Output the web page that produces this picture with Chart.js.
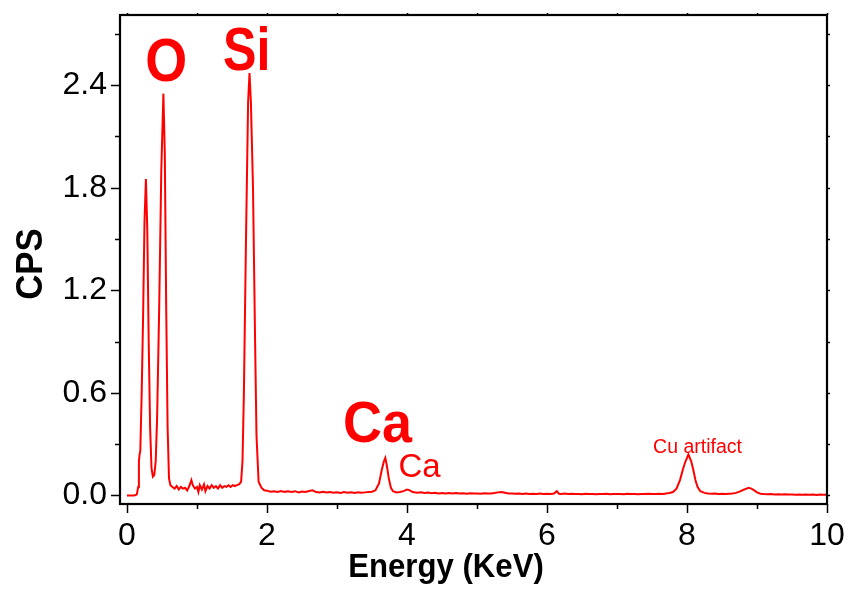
<!DOCTYPE html>
<html>
<head>
<meta charset="utf-8">
<script src="https://cdn.jsdelivr.net/npm/chart.js@4.4.1/dist/chart.umd.min.js"></script>
<style>
  html, body { margin: 0; padding: 0; background: #fff; }
  #wrap { width: 851px; height: 590px; }
</style>
</head>
<body>
<div id="wrap"><canvas id="eds" width="851" height="590"></canvas></div>
<script>
// EDS spectrum, values

const energyKeV = [
  0.00, 0.05, 0.10, 0.14, 0.16, 0.17, 0.18, 0.19, 0.21, 0.23,
  0.25, 0.27, 0.29, 0.31, 0.33, 0.35, 0.37, 0.39, 0.41, 0.43,
  0.46, 0.49, 0.52, 0.54, 0.56, 0.58, 0.60, 0.62, 0.65, 0.68,
  0.71, 0.74, 0.77, 0.80, 0.83, 0.86, 0.89, 0.92, 0.94, 0.97,
  1.00, 1.02, 1.04, 1.07, 1.10, 1.12, 1.15, 1.18, 1.21, 1.24,
  1.27, 1.30, 1.33, 1.36, 1.39, 1.42, 1.45, 1.48, 1.51, 1.54,
  1.57, 1.60, 1.63, 1.65, 1.67, 1.70, 1.73, 1.75, 1.77, 1.80,
  1.83, 1.85, 1.88, 1.92, 1.96, 2.00, 2.05, 2.10, 2.15, 2.20,
  2.25, 2.30, 2.35, 2.40, 2.45, 2.50, 2.55, 2.60, 2.65, 2.70,
  2.75, 2.80, 2.85, 2.90, 2.95, 3.00, 3.05, 3.10, 3.15, 3.20,
  3.25, 3.30, 3.35, 3.40, 3.45, 3.50, 3.55, 3.60, 3.64, 3.67,
  3.69, 3.71, 3.74, 3.77, 3.80, 3.85, 3.90, 3.95, 4.00, 4.04,
  4.08, 4.15, 4.20, 4.25, 4.30, 4.35, 4.40, 4.45, 4.50, 4.55,
  4.60, 4.65, 4.70, 4.75, 4.80, 4.85, 4.90, 4.95, 5.00, 5.05,
  5.10, 5.15, 5.20, 5.25, 5.30, 5.35, 5.40, 5.45, 5.50, 5.55,
  5.60, 5.65, 5.70, 5.75, 5.80, 5.85, 5.90, 5.95, 6.00, 6.05,
  6.10, 6.14, 6.17, 6.20, 6.25, 6.30, 6.35, 6.40, 6.45, 6.50,
  6.55, 6.60, 6.65, 6.70, 6.75, 6.80, 6.85, 6.90, 6.95, 7.00,
  7.05, 7.10, 7.15, 7.20, 7.25, 7.30, 7.35, 7.40, 7.45, 7.50,
  7.55, 7.60, 7.65, 7.70, 7.75, 7.80, 7.85, 7.90, 7.94, 7.97,
  8.00, 8.02, 8.04, 8.06, 8.09, 8.12, 8.15, 8.19, 8.25, 8.30,
  8.35, 8.40, 8.45, 8.50, 8.55, 8.60, 8.65, 8.70, 8.75, 8.80,
  8.85, 8.88, 8.92, 8.96, 9.00, 9.05, 9.10, 9.15, 9.20, 9.25,
  9.30, 9.35, 9.40, 9.45, 9.50, 9.55, 9.60, 9.65, 9.70, 9.75,
  9.80, 9.85, 9.90, 9.95, 10.00
];

const cps = [
  0.000, 0.000, 0.000, 0.005, 0.050, 0.200, 0.240, 0.260, 0.600, 1.050,
  1.600, 1.850, 1.550, 0.900, 0.400, 0.160, 0.110, 0.120, 0.200, 0.450,
  1.100, 1.900, 2.350, 2.000, 1.100, 0.400, 0.100, 0.060, 0.050, 0.040,
  0.055, 0.035, 0.050, 0.040, 0.045, 0.030, 0.055, 0.090, 0.060, 0.040,
  0.050, 0.020, 0.060, 0.035, 0.065, 0.025, 0.055, 0.040, 0.060, 0.045,
  0.055, 0.040, 0.060, 0.045, 0.055, 0.050, 0.060, 0.050, 0.060, 0.055,
  0.060, 0.065, 0.080, 0.200, 0.600, 1.500, 2.300, 2.470, 2.300, 1.800,
  0.900, 0.350, 0.080, 0.045, 0.030, 0.028, 0.022, 0.025, 0.020, 0.026,
  0.021, 0.024, 0.020, 0.025, 0.018, 0.023, 0.020, 0.026, 0.030, 0.020,
  0.018, 0.022, 0.017, 0.020, 0.016, 0.019, 0.015, 0.020, 0.016, 0.018,
  0.014, 0.019, 0.016, 0.018, 0.020, 0.022, 0.030, 0.070, 0.150, 0.200,
  0.220, 0.180, 0.100, 0.045, 0.025, 0.018, 0.020, 0.025, 0.035, 0.030,
  0.020, 0.016, 0.018, 0.014, 0.017, 0.013, 0.016, 0.012, 0.015, 0.012,
  0.014, 0.011, 0.014, 0.012, 0.013, 0.010, 0.013, 0.011, 0.012, 0.010,
  0.013, 0.011, 0.012, 0.014, 0.018, 0.020, 0.016, 0.012, 0.011, 0.010,
  0.012, 0.009, 0.011, 0.009, 0.010, 0.008, 0.011, 0.009, 0.010, 0.008,
  0.011, 0.025, 0.010, 0.009, 0.011, 0.008, 0.010, 0.008, 0.009, 0.007,
  0.010, 0.008, 0.009, 0.007, 0.009, 0.008, 0.010, 0.007, 0.009, 0.008,
  0.009, 0.007, 0.010, 0.008, 0.009, 0.007, 0.009, 0.008, 0.010, 0.008,
  0.009, 0.010, 0.009, 0.012, 0.014, 0.020, 0.040, 0.090, 0.150, 0.190,
  0.220, 0.240, 0.220, 0.200, 0.150, 0.090, 0.050, 0.025, 0.015, 0.012,
  0.010, 0.011, 0.009, 0.010, 0.008, 0.010, 0.012, 0.015, 0.022, 0.032,
  0.040, 0.045, 0.040, 0.030, 0.018, 0.010, 0.008, 0.007, 0.008, 0.006,
  0.007, 0.005, 0.007, 0.005, 0.006, 0.004, 0.006, 0.004, 0.005, 0.004,
  0.005, 0.003, 0.005, 0.004, 0.004
];

const xTicks = [0, 1, 2, 3, 4, 5, 6, 7, 8, 9, 10];
const xTickLabels = ['0', '', '2', '', '4', '', '6', '', '8', '', '10'];
const yTicks = [0, 0.3, 0.6, 0.9, 1.2, 1.5, 1.8, 2.1, 2.4, 2.7];
const yTickLabels = ['0.0', '', '0.6', '', '1.2', '', '1.8', '', '2.4', ''];

const peakNames = ['O', 'Si', 'Ca', 'Ca', 'Cu artifact'];
const peakAt = [[0.56, 2.425], [1.71, 2.49], [3.58, 0.31], [4.18, 0.109], [8.15, 0.25]];

const RED = '#ff0000';
const FONT = '"Liberation Sans", Arial, Helvetica, sans-serif';

// text style for each label above: size, bold, horizontal squeeze
const peakStyle = [
  { size: 62, bold: true, sx: 0.87 },
  { size: 62, bold: true, sx: 0.81 },
  { size: 58, bold: true, sx: 0.93 },
  { size: 33, bold: false, sx: 1 },
  { size: 19.5, bold: false, sx: 1 }
];

function squeezeText(ctx, txt, x, y, size, bold, sx, angle) {
  ctx.save();
  ctx.translate(x, y);
  if (angle) ctx.rotate(angle);
  ctx.scale(sx, 1);
  ctx.font = (bold ? 'bold ' : '') + size + 'px ' + FONT;
  ctx.textAlign = 'center';
  ctx.textBaseline = 'alphabetic';
  ctx.fillText(txt, 0, 0);
  ctx.restore();
}

// frame, tick marks, peak labels and axis titles
const decor = {
  id: 'decor',
  afterDatasetsDraw(chart) {
    const ctx = chart.ctx;
    const a = chart.chartArea;
    const xs = chart.scales.x, ys = chart.scales.y;

    ctx.save();
    ctx.strokeStyle = '#000';
    ctx.lineWidth = 1.5;
    ctx.beginPath();
    yTicks.forEach((v, i) => {
      const py = Math.round(ys.getPixelForValue(v)) + 0.5;
      const len = yTickLabels[i] ? 9 : 5;
      ctx.moveTo(a.left - len, py); ctx.lineTo(a.left, py);
      ctx.moveTo(a.right, py); ctx.lineTo(a.right + 3, py);
    });
    xTicks.forEach((v, i) => {
      const px = Math.round(xs.getPixelForValue(v)) + 0.5;
      const len = xTickLabels[i] ? 9 : 5;
      ctx.moveTo(px, a.bottom); ctx.lineTo(px, a.bottom + len);
      ctx.moveTo(px, a.top); ctx.lineTo(px, a.top - 2);
    });
    ctx.stroke();

    ctx.lineWidth = 2.2;
    ctx.strokeRect(a.left, a.top, a.right - a.left, a.bottom - a.top);

    ctx.fillStyle = RED;
    peakNames.forEach((name, i) => {
      const s = peakStyle[i];
      squeezeText(ctx, name, xs.getPixelForValue(peakAt[i][0]), ys.getPixelForValue(peakAt[i][1]),
        s.size, s.bold, s.sx, 0);
    });

    ctx.fillStyle = '#000';
    squeezeText(ctx, 'Energy (KeV)', 446, 577, 33.5, true, 0.93, 0);
    squeezeText(ctx, 'CPS', 42, 264, 37, true, 0.94, -Math.PI / 2);
    ctx.restore();
  }
};

const ctx = document.getElementById('eds');

new Chart(ctx, {
  type: 'line',
  data: {
    labels: energyKeV,
    datasets: [{
      label: 'CPS',
      data: energyKeV.map((e, i) => ({ x: e, y: cps[i] })),
      borderColor: RED,
      borderWidth: 2,
      pointRadius: 0,
      tension: 0,
      fill: false
    }]
  },
  options: {
    responsive: false,
    animation: false,
    devicePixelRatio: 1,
    layout: { padding: { left: 0, right: 24, top: 15, bottom: 0 } },
    plugins: {
      legend: { display: false },
      tooltip: { enabled: false }
    },
    scales: {
      x: {
        type: 'linear',
        min: -0.1,
        max: 10,
        afterFit(scale) {
          scale.height = 86;
          scale.paddingLeft = 0;
          scale.paddingRight = 0;
        },
        afterBuildTicks(scale) { scale.ticks = xTicks.map(v => ({ value: v })); },
        grid: { display: false, drawTicks: false },
        border: { display: false },
        ticks: {
          padding: 13,
          color: '#000',
          font: { family: FONT, size: 32 },
          maxRotation: 0,
          autoSkip: false,
          callback: (v) => xTickLabels[xTicks.indexOf(v)] ?? ''
        }
      },
      y: {
        type: 'linear',
        min: -0.05,
        max: 2.81,
        afterFit(scale) {
          scale.width = 120;
          scale.paddingTop = 0;
          scale.paddingBottom = 0;
        },
        afterBuildTicks(scale) { scale.ticks = yTicks.map(v => ({ value: v })); },
        grid: { display: false, drawTicks: false },
        border: { display: false },
        ticks: {
          padding: 13,
          color: '#000',
          font: { family: FONT, size: 32 },
          autoSkip: false,
          callback: (v) => {
            const i = yTicks.findIndex(t => Math.abs(t - v) < 1e-6);
            return i >= 0 ? yTickLabels[i] : '';
          }
        }
      }
    }
  },
  plugins: [decor]
});
</script>
</body>
</html>
